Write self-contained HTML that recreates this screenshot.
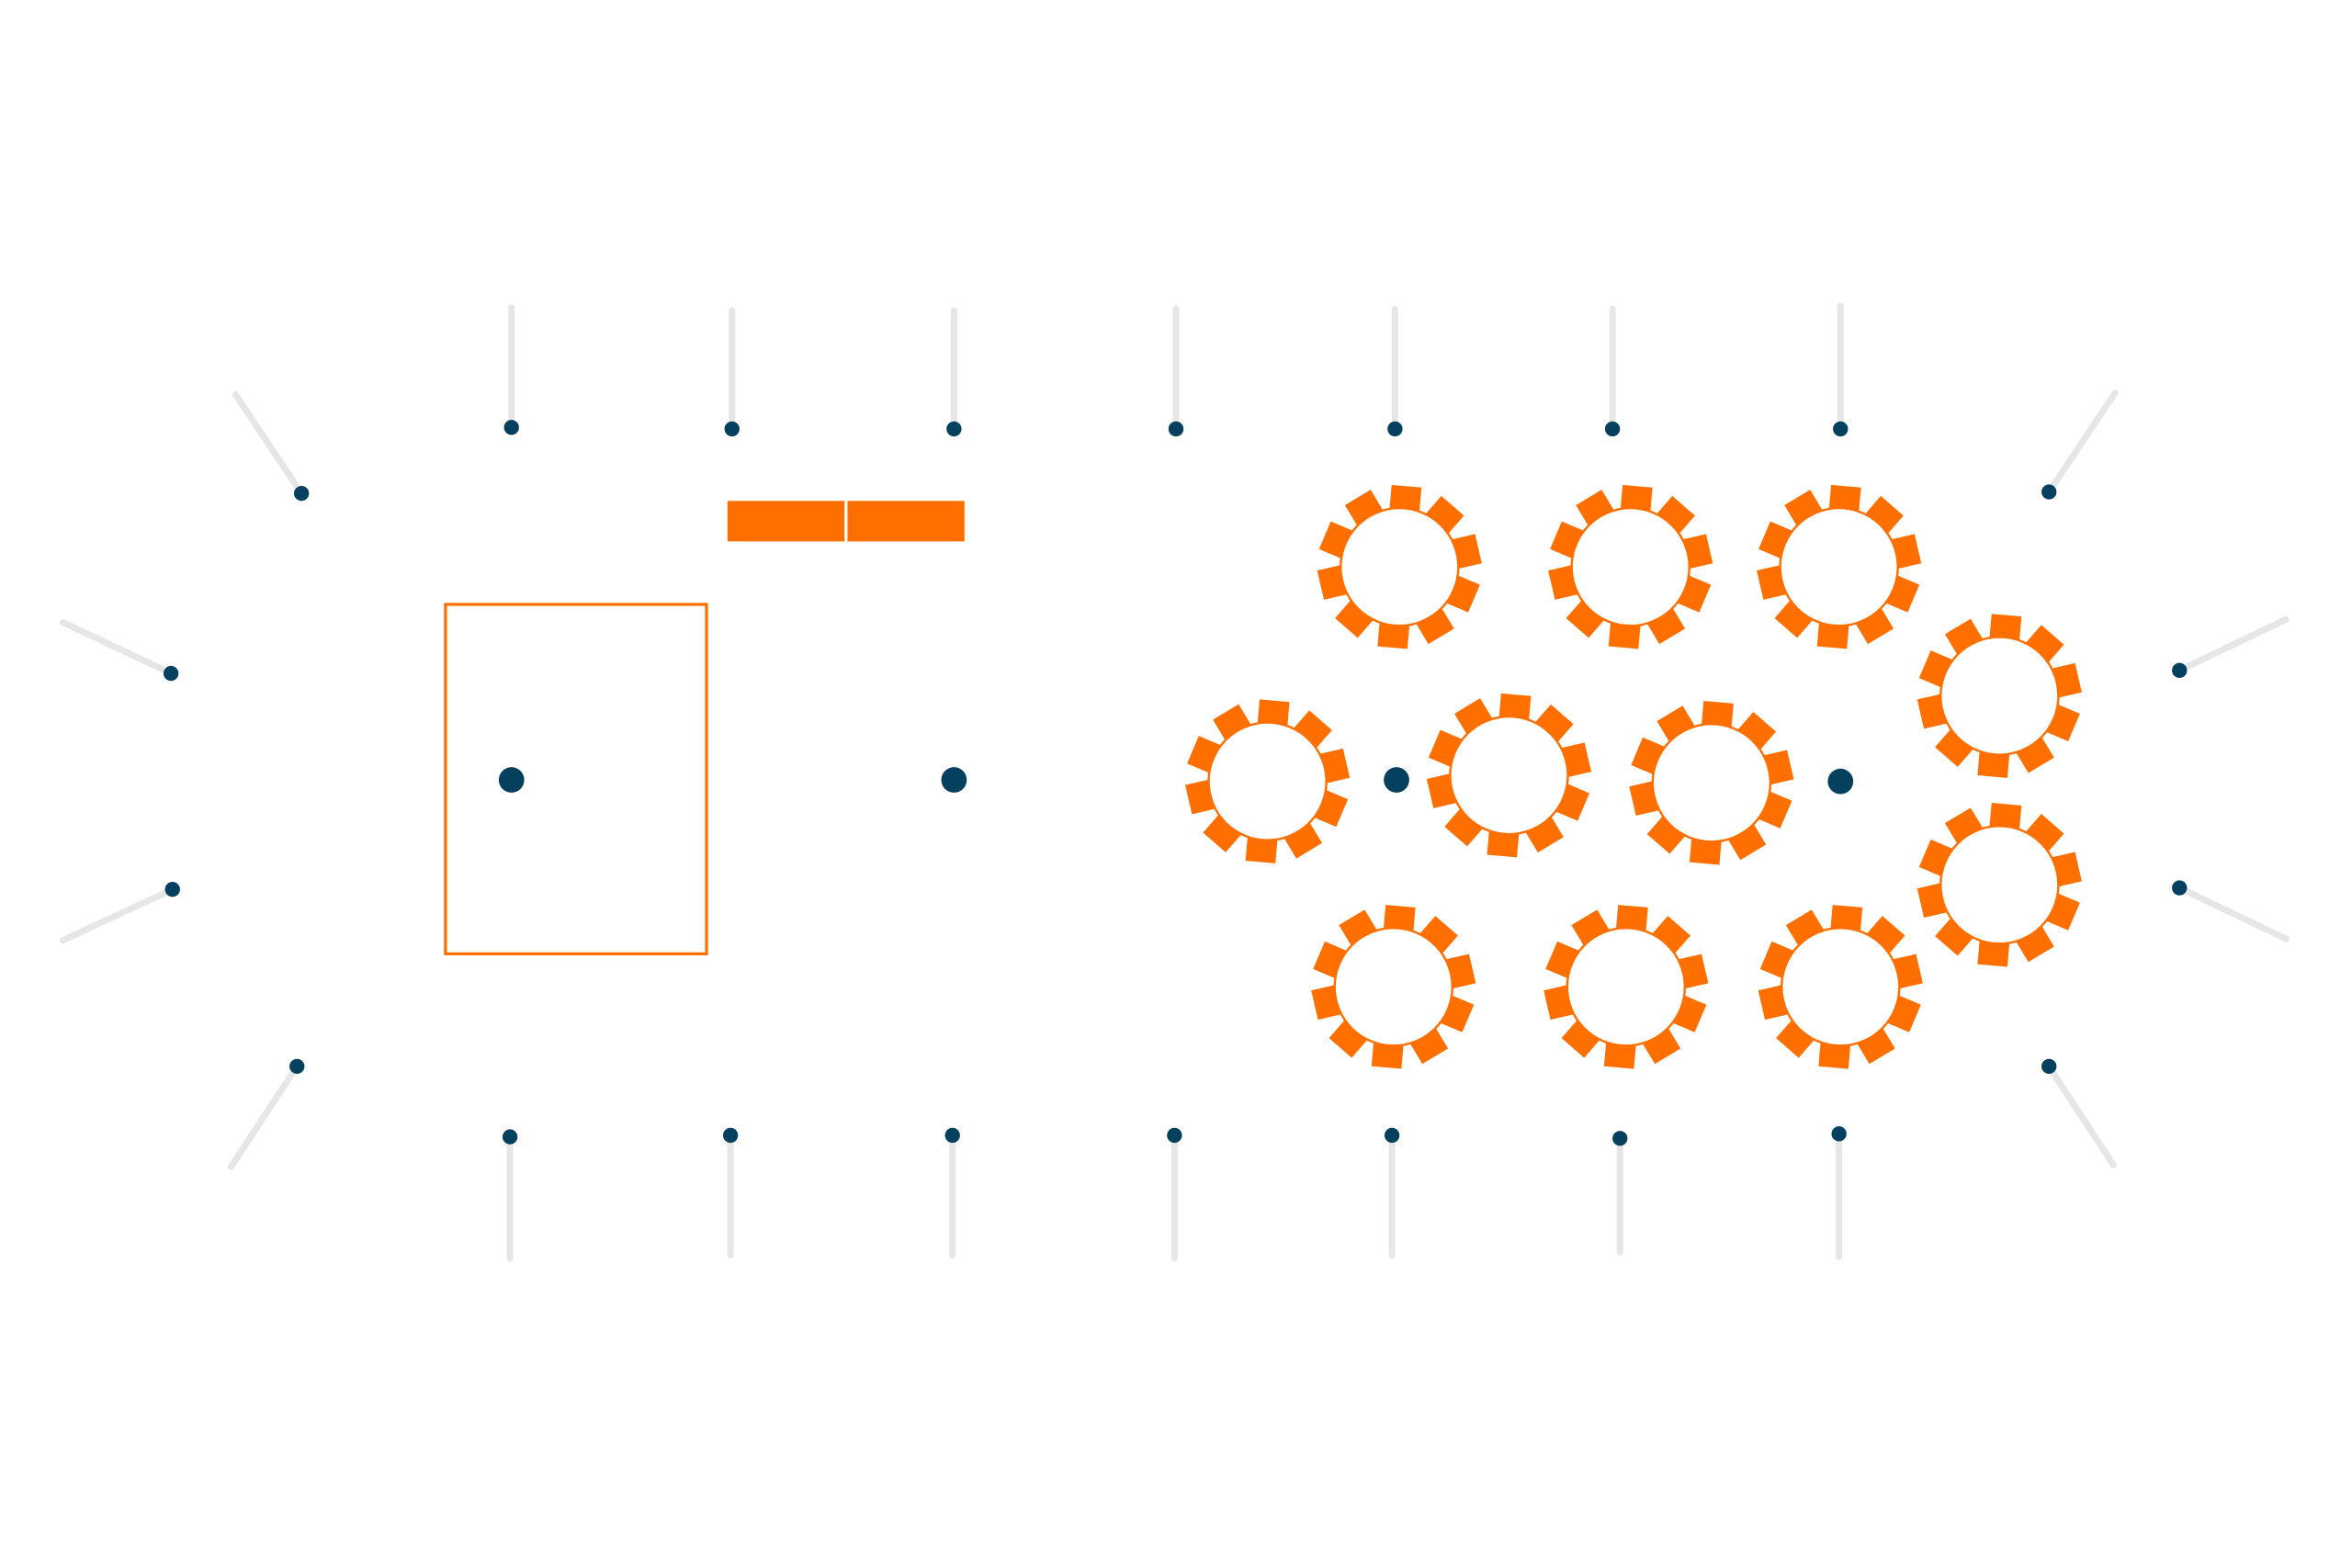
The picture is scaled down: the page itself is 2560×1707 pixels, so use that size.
<!DOCTYPE html>
<html><head><meta charset="utf-8"><style>
html,body{margin:0;padding:0;background:#fff;}
svg{display:block;}
</style></head><body>
<svg width="2560" height="1707" viewBox="0 0 1568 1045.5" preserveAspectRatio="none" xmlns="http://www.w3.org/2000/svg">
<defs>
<g id="t">
  <g fill="#ff6f00">
    <rect x="-10" y="-54" width="20" height="19" transform="rotate(5)"/>
    <rect x="-10" y="-54" width="20" height="19" transform="rotate(41)"/>
    <rect x="-10" y="-54" width="20" height="19" transform="rotate(77)"/>
    <rect x="-10" y="-54" width="20" height="19" transform="rotate(113)"/>
    <rect x="-10" y="-54" width="20" height="19" transform="rotate(149)"/>
    <rect x="-10" y="-54" width="20" height="19" transform="rotate(185)"/>
    <rect x="-10" y="-54" width="20" height="19" transform="rotate(221)"/>
    <rect x="-10" y="-54" width="20" height="19" transform="rotate(257)"/>
    <rect x="-10" y="-54" width="20" height="19" transform="rotate(293)"/>
    <rect x="-10" y="-54" width="20" height="19" transform="rotate(329)"/>
  </g>
  <circle r="40" fill="#ff6f00"/>
  <circle r="38.5" fill="#fff"/>
</g>
</defs>
<g stroke="#e6e6e6" stroke-width="4.3" stroke-linecap="round" fill="none">
  <line x1="341" y1="205" x2="341" y2="285"/>
  <line x1="488" y1="207" x2="488" y2="286"/>
  <line x1="636" y1="207" x2="636" y2="286"/>
  <line x1="784" y1="206" x2="784" y2="286"/>
  <line x1="930" y1="206" x2="930" y2="286"/>
  <line x1="1075" y1="206" x2="1075" y2="286"/>
  <line x1="1227" y1="204" x2="1227" y2="286"/>
  <line x1="340" y1="758" x2="340" y2="839"/>
  <line x1="487" y1="757" x2="487" y2="837"/>
  <line x1="635" y1="757" x2="635" y2="837"/>
  <line x1="783" y1="757" x2="783" y2="839"/>
  <line x1="928" y1="757" x2="928" y2="837"/>
  <line x1="1080" y1="759" x2="1080" y2="835"/>
  <line x1="1226" y1="756" x2="1226" y2="838"/>
  <line x1="157" y1="263" x2="201" y2="329"/>
  <line x1="42" y1="415" x2="114" y2="449"/>
  <line x1="42" y1="627" x2="115" y2="593"/>
  <line x1="154" y1="778" x2="198" y2="711"/>
  <line x1="1410" y1="262" x2="1366" y2="328"/>
  <line x1="1524" y1="413" x2="1453" y2="447"/>
  <line x1="1524" y1="626" x2="1453" y2="592"/>
  <line x1="1409" y1="777" x2="1366" y2="711"/>
</g>
<g fill="#05405e">
  <circle cx="341" cy="285" r="5"/><circle cx="488" cy="286" r="5"/><circle cx="636" cy="286" r="5"/>
  <circle cx="784" cy="286" r="5"/><circle cx="930" cy="286" r="5"/><circle cx="1075" cy="286" r="5"/>
  <circle cx="1227" cy="286" r="5"/>
  <circle cx="340" cy="758" r="5"/><circle cx="487" cy="757" r="5"/><circle cx="635" cy="757" r="5"/>
  <circle cx="783" cy="757" r="5"/><circle cx="928" cy="757" r="5"/><circle cx="1080" cy="759" r="5"/>
  <circle cx="1226" cy="756" r="5"/>
  <circle cx="201" cy="329" r="5"/><circle cx="114" cy="449" r="5"/><circle cx="115" cy="593" r="5"/>
  <circle cx="198" cy="711" r="5"/><circle cx="1366" cy="328" r="5"/><circle cx="1453" cy="447" r="5"/>
  <circle cx="1453" cy="592" r="5"/><circle cx="1366" cy="711" r="5"/>
  <circle cx="341" cy="520" r="8.5"/><circle cx="636" cy="520" r="8.5"/>
  <circle cx="931" cy="520" r="8.5"/><circle cx="1227" cy="521" r="8.5"/>
</g>
<rect x="297" y="403" width="174" height="233" fill="none" stroke="#ff6f00" stroke-width="2"/>
<rect x="485" y="334" width="78" height="27" fill="#ff6f00"/>
<rect x="565" y="334" width="78" height="27" fill="#ff6f00"/>
<use href="#t" x="933" y="378"/>
<use href="#t" x="1087" y="378"/>
<use href="#t" x="1226" y="378"/>
<use href="#t" x="1333" y="464"/>
<use href="#t" x="845" y="521"/>
<use href="#t" x="1006" y="517"/>
<use href="#t" x="1141" y="522"/>
<use href="#t" x="1333" y="590"/>
<use href="#t" x="929" y="658"/>
<use href="#t" x="1084" y="658"/>
<use href="#t" x="1227" y="658"/>
</svg>
</body></html>
